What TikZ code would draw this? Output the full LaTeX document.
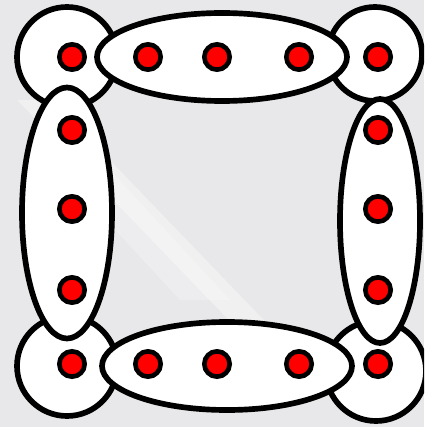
\documentclass[tikz,border=0pt]{standalone}
\usetikzlibrary{shapes.geometric}
\definecolor{bggray}{RGB}{232,232,234}
\definecolor{dotred}{RGB}{255,0,0}
\tikzset{
  corner/.style={circle, draw=black, fill=white, line width=0.17cm, inner sep=0pt, minimum size=#1},
  ring/.style={ellipse, draw=black, fill=white, line width=0.17cm, inner sep=0pt},
  atom/.style={circle, draw=black, fill=dotred, line width=0.14cm, inner sep=0pt, minimum size=0.76cm},
}
\begin{document}
\begin{tikzpicture}[x=0.03cm, y=-0.03cm]
\useasboundingbox (0,0) rectangle (424,427);
%---- the backdrop
\fill[bggray] (0,0) rectangle (424,427);
\fill[white, opacity=0.35] (17,100) -- (52,100) -- (283,340) -- (248,340) -- cycle;
\fill[white, opacity=0.25] (60,170) -- (110,170) -- (230,300) -- (180,300) -- cycle;
\begin{scope}
\clip (0,0) rectangle (424,427);
%---- the corner blobs
\node[corner=3.0cm] (tl) at (67,57) {};
\node[corner=2.82cm] (tr) at (375,54) {};
\node[corner=3.0cm] (bl) at (67,366) {};
\node[corner=3.0cm] (br) at (376,371) {};
%---- the four sides
\node[ring, minimum width=7.5cm, minimum height=2.64cm] (top) at (222,57) {};
\node[ring, minimum width=7.5cm, minimum height=2.64cm] (bot) at (227,366) {};
\node[ring, minimum width=2.7cm, minimum height=7.53cm] (lft) at (67,213) {};
\node[ring, minimum width=2.4cm, minimum height=7.32cm] (rgt) at (380,221) {};
\end{scope}
%---- the dots
\foreach \x [count=\i] in {72,148,217,299,378}{
  \node[atom] (t\i) at (\x,57) {};
  \node[atom] (b\i) at (\x,364) {};}
\foreach \y [count=\i] in {130,209,290}{
  \node[atom] (l\i) at (72,\y) {};
  \node[atom] (r\i) at (378,\y) {};}
\end{tikzpicture}
\end{document}
